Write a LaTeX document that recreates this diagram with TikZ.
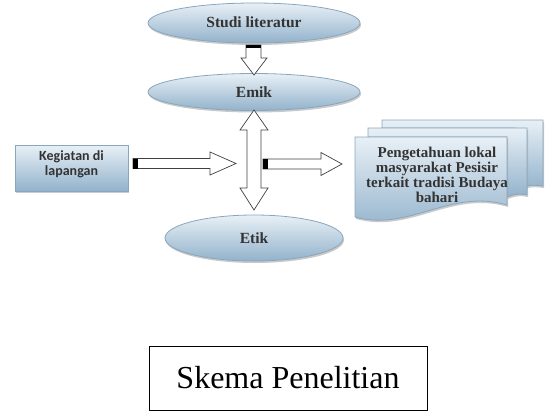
\documentclass[tikz,border=0pt]{standalone}
\usepackage{fontspec}
\setmainfont{Liberation Serif}
\newfontfamily\calfont{Carlito}
\usetikzlibrary{shadows}
\definecolor{topc}{HTML}{E8F0F6}
\definecolor{botc}{HTML}{92B2CB}
\definecolor{edgec}{HTML}{8AA6BC}
\definecolor{txtc}{HTML}{333333}
\tikzset{
  blob/.style={draw=edgec, line width=0.8pt, top color=topc, bottom color=botc,
     drop shadow={shadow xshift=1pt, shadow yshift=-2pt, fill=black!35, opacity=0.6}},
  elltxt/.style={font=\bfseries\fontsize{15.5}{18}\selectfont, text=txtc},
  blockarrow/.style={draw=black!75, fill=white, line width=0.7pt, line join=miter},
  capmark/.style={fill=black}
}
\begin{document}
\begin{tikzpicture}[x=1pt,y=-1pt]
\useasboundingbox (0,0) rectangle (545,412);
% ellipses
\draw[blob] (254,23) ellipse (106 and 20);
\node[elltxt] (studi) at (254,22) {Studi literatur};
\draw[blob] (254,92) ellipse (106 and 18.5);
\node[elltxt] (emik) at (254,92) {Emik};
\draw[blob] (254,238) ellipse (89 and 23);
\node[elltxt] (etik) at (254,238) {Etik};
% Kegiatan box
\draw[blob] (15,145) rectangle (128,191);
\node[font=\calfont\bfseries\fontsize{14}{15}\selectfont, text=txtc, align=center] (keg) at (71.5,164) {Kegiatan di\\lapangan};
% document stack
\draw[blob] (382,120) -- (543,120) -- (543,186) .. controls (530,184) and (525,186) .. (515,190) -- (515,128) -- (382,128) -- cycle;
\draw[blob] (368,128) -- (527,128) -- (527,195) .. controls (518,193) and (512,195) .. (507,197) -- (507,137) -- (368,137) -- cycle;
\draw[blob] (355,137) -- (507,137) -- (507,205) .. controls (450,188) and (410,232) .. (355,217) -- cycle;
\node[font=\bfseries\fontsize{15}{15}\selectfont, text=txtc, align=center] (doc) at (437,175) {Pengetahuan lokal\\masyarakat Pesisir\\terkait tradisi Budaya\\bahari};
% Skema box
\node[draw=black, line width=1pt, minimum width=278, minimum height=64, font=\fontsize{32}{36}\selectfont] (skema) at (288,378) {Skema Penelitian\hspace{12pt}};
% arrow studi -> emik
\draw[blockarrow] (246,45) -- (261,45) -- (261,58) -- (267,58) -- (254,75) -- (241,58) -- (246,58) -- cycle;
\fill[capmark] (246,45) rectangle (261,48.5);
% double arrow emik <-> etik
\draw[blockarrow] (254,110) -- (268,130) -- (261,130) -- (261,188) -- (268,188) -- (254,210) -- (240,188) -- (247,188) -- (247,130) -- (240,130) -- cycle;
% left arrow
\draw[blockarrow] (133,158.5) -- (210,158.5) -- (210,152) -- (236,163.5) -- (210,175) -- (210,168.5) -- (133,168.5) -- cycle;
\fill[capmark] (133,158.5) rectangle (137.5,168.5);
% right arrow
\draw[blockarrow] (263,159) -- (321,159) -- (321,152.5) -- (342,164) -- (321,175.5) -- (321,169) -- (263,169) -- cycle;
\fill[capmark] (263,159) rectangle (267.5,169);
\end{tikzpicture}
\end{document}
